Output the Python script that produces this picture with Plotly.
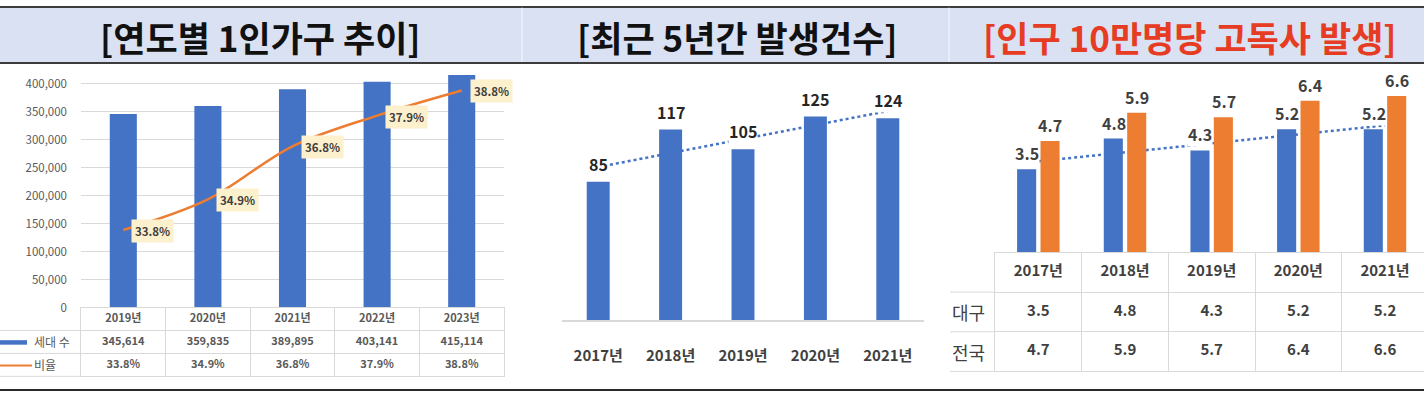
import numpy as np
import plotly.graph_objects as go

W, H = 1424, 402

# ---------------- data ----------------
titles = ["[연도별 1인가구 추이]", "[최근 5년간 발생건수]", "[인구 10만명당 고독사 발생]"]

years1 = ["2019년", "2020년", "2021년", "2022년", "2023년"]
households = [345614, 359835, 389895, 403141, 415114]
ratio = [33.8, 34.9, 36.8, 37.9, 38.8]
rows1 = ["연도", "세대 수", "비율"]
y1_ticks = [0, 50000, 100000, 150000, 200000, 250000, 300000, 350000, 400000]

years2 = ["2017년", "2018년", "2019년", "2020년", "2021년"]
cases = [85, 117, 105, 125, 124]

years3 = ["2017년", "2018년", "2019년", "2020년", "2021년"]
daegu = [3.5, 4.8, 4.3, 5.2, 5.2]
nation = [4.7, 5.9, 5.7, 6.4, 6.6]
rows3 = ["연도", "대구", "전국"]


# linear trendlines (as Excel draws them) fitted to the data
def trend(vals):
    xs = np.arange(len(vals))
    k, b = np.polyfit(xs, vals, 1)
    return (k * xs + b).tolist()


trend2 = trend(cases)
trend3 = trend(daegu)

# ---------------- style ----------------
FONT = "Noto Sans CJK KR"
BLUE = "#4472c4"
ORANGE = "#ed7d31"
GRID = "#d9d9d9"
TXT = "#404040"
GRAYTXT = "#595959"
NONE = "rgba(0,0,0,0)"


def fx(px):
    return px / W


def fy(py):
    return 1 - py / H


fig = go.Figure()

# ---------- panel 1 ----------
fig.add_trace(go.Bar(x=years1, y=households, xaxis="x", yaxis="y",
                     marker=dict(color=BLUE, line=dict(width=0)), width=0.32,
                     hoverinfo="skip"))
fig.add_trace(go.Scatter(x=years1, y=ratio, xaxis="x", yaxis="y2", mode="lines",
                         line=dict(color=ORANGE, width=2.5, shape="spline", smoothing=1),
                         hoverinfo="skip"))

# data table of panel 1 (category grid)
t1_x, t1_y, t1_t = [], [], []
for yr, h, r in zip(years1, households, ratio):
    t1_x += [yr, yr, yr]
    t1_y += rows1
    t1_t += [f"<b>{yr}</b>", f"<b>{h:,}</b>", f"<b>{r}%</b>"]
fig.add_trace(go.Scatter(x=t1_x, y=t1_y, text=t1_t, mode="text", xaxis="x4", yaxis="y7",
                         textfont=dict(family=FONT, size=11, color=GRAYTXT), hoverinfo="skip"))

# ---------- panel 2 ----------
fig.add_trace(go.Scatter(x=years2, y=trend2, xaxis="x2", yaxis="y3", mode="lines",
                         line=dict(color=BLUE, width=2.5, dash="dot"), hoverinfo="skip"))
fig.add_trace(go.Bar(x=years2, y=cases, xaxis="x2", yaxis="y4",
                     marker=dict(color=BLUE, line=dict(width=0)), width=0.317,
                     hoverinfo="skip"))

# ---------- panel 3 ----------
fig.add_trace(go.Scatter(x=years3, y=trend3, xaxis="x3", yaxis="y5", mode="lines",
                         line=dict(color=BLUE, width=2.5, dash="dot"), hoverinfo="skip"))
fig.add_trace(go.Bar(x=years3, y=daegu, xaxis="x3", yaxis="y6", name="대구",
                     marker=dict(color=BLUE, line=dict(width=0)),
                     width=0.22, offset=-0.245, hoverinfo="skip"))
fig.add_trace(go.Bar(x=years3, y=nation, xaxis="x3", yaxis="y6", name="전국",
                     marker=dict(color=ORANGE, line=dict(width=0)),
                     width=0.22, offset=0.025, hoverinfo="skip"))

t3_x, t3_y, t3_t = [], [], []
for yr, a, b in zip(years3, daegu, nation):
    t3_x += [yr, yr, yr]
    t3_y += rows3
    t3_t += [f"<b>{yr}</b>", f"<b>{a}</b>", f"<b>{b}</b>"]
fig.add_trace(go.Scatter(x=t3_x, y=t3_y, text=t3_t, mode="text", xaxis="x5", yaxis="y8",
                         textfont=dict(family=FONT, size=15, color=TXT), hoverinfo="skip"))

# ---------------- annotations ----------------
ann = []
title_x = [260, 737, 1190]
title_col = ["#111111", "#111111", "#e63c23"]
for t, x, c in zip(titles, title_x, title_col):
    ann.append(dict(text=f"<b>{t}</b>", x=fx(x), y=fy(37), xref="paper", yref="paper",
                    xanchor="center", yanchor="middle", showarrow=False,
                    font=dict(family=FONT, size=35, color=c)))

for yr, r in zip(years1, ratio):
    ann.append(dict(text=f"<b>{r}%</b>", x=yr, y=r, xref="x", yref="y2",
                    xanchor="left", yanchor="middle", xshift=8, yshift=-1,
                    showarrow=False, bgcolor="#fdf0cc", borderpad=3,
                    font=dict(family=FONT, size=11.5, color=TXT)))

# row labels of the panel-1 table
for lab in rows1[1:]:
    ann.append(dict(text=lab, x=fx(32), y=lab, xref="paper", yref="y7",
                    xanchor="left", yanchor="middle", showarrow=False,
                    font=dict(family=FONT, size=12, color=GRAYTXT)))

for yr, v in zip(years2, cases):
    ann.append(dict(text=f"<b>{v}</b>", x=yr, y=v, xref="x2", yref="y4",
                    xanchor="center", yanchor="bottom", yshift=5,
                    showarrow=False, bgcolor="white", borderpad=0,
                    font=dict(family=FONT, size=16, color="#262626")))

for yr, a, b in zip(years3, daegu, nation):
    ann.append(dict(text=f"<b>{a}</b>", x=yr, y=a, xref="x3", yref="y6",
                    xanchor="center", yanchor="bottom", yshift=3, xshift=-11.5,
                    showarrow=False, bgcolor="white", borderpad=0,
                    font=dict(family=FONT, size=16, color=TXT)))
    ann.append(dict(text=f"<b>{b}</b>", x=yr, y=b, xref="x3", yref="y6",
                    xanchor="center", yanchor="bottom", yshift=3, xshift=12,
                    showarrow=False, borderpad=0,
                    font=dict(family=FONT, size=16, color=TXT)))

for lab in rows3[1:]:
    ann.append(dict(text=lab, x=fx(969), y=lab, xref="paper", yref="y8",
                    xanchor="center", yanchor="middle", showarrow=False,
                    font=dict(family=FONT, size=18, color=TXT)))

# ---------------- shapes ----------------
shapes = [
    dict(type="rect", xref="paper", yref="paper", x0=0, x1=1, y0=fy(64), y1=fy(7),
         fillcolor="#dae1f3", line=dict(width=0), layer="below"),
    dict(type="line", xref="paper", yref="paper", x0=0, x1=1, y0=fy(7), y1=fy(7),
         line=dict(color="#3c3c3c", width=2)),
    dict(type="line", xref="paper", yref="paper", x0=0, x1=1, y0=fy(64), y1=fy(64),
         line=dict(color="#3c3c3c", width=2)),
    dict(type="line", xref="paper", yref="paper", x0=0, x1=1, y0=fy(397), y1=fy(397),
         line=dict(color="#2a2a2a", width=2)),
    dict(type="line", xref="paper", yref="paper", x0=fx(522), x1=fx(522), y0=fy(63), y1=fy(8),
         line=dict(color="#eef1fa", width=1.5)),
    dict(type="line", xref="paper", yref="paper", x0=fx(949), x1=fx(949), y0=fy(63), y1=fy(8),
         line=dict(color="#eef1fa", width=1.5)),
    # legend keys in the panel-1 data table
    dict(type="line", xref="paper", yref="paper", x0=0, x1=fx(27), y0=fy(348.5), y1=fy(348.5),
         line=dict(color=BLUE, width=4.5)),
    dict(type="line", xref="paper", yref="paper", x0=0, x1=fx(32), y0=fy(372), y1=fy(372),
         line=dict(color=ORANGE, width=2)),
]
for py in [336.3, 359.7, 383]:
    shapes.append(dict(type="line", xref="paper", yref="paper", x0=0, x1=fx(81), y0=fy(py), y1=fy(py),
                       line=dict(color=GRID, width=1)))
for py in [297.3, 337.7, 378]:
    shapes.append(dict(type="line", xref="paper", yref="paper", x0=fx(950), x1=fx(995), y0=fy(py), y1=fy(py),
                       line=dict(color=GRID, width=1)))

table_ax = dict(type="category", tickson="boundaries", showgrid=True, gridcolor=GRID, gridwidth=1,
                showticklabels=False, ticks="", zeroline=False, showline=True, linecolor=GRID,
                linewidth=1, fixedrange=True)

fig.update_layout(
    width=W, height=H, autosize=False,
    margin=dict(l=0, r=0, t=0, b=0, pad=0),
    paper_bgcolor="white", plot_bgcolor=NONE,
    showlegend=False, barmode="group", hovermode=False,
    font=dict(family=FONT, color=TXT),
    annotations=ann, shapes=shapes,
    # panel 1
    xaxis=dict(domain=[fx(81), fx(504)], anchor="y", type="category", range=[-0.5, 4.5],
               showticklabels=False, showgrid=False, zeroline=False, showline=False, fixedrange=True),
    yaxis=dict(domain=[fy(313), fy(73.6)], anchor="x", range=[0, 420000],
               tickvals=y1_ticks, tickformat=",", showgrid=True, gridcolor=GRID, gridwidth=1,
               zeroline=False, showline=False, ticks="", ticklabelstandoff=13,
               tickfont=dict(family=FONT, size=11.5, color=GRAYTXT), fixedrange=True),
    yaxis2=dict(overlaying="y", anchor="x", side="right", range=[31.02, 39.45], visible=False),
    xaxis4=dict(table_ax, domain=[fx(81), fx(504)], anchor="y7", range=[-0.5, 4.5],
                categoryorder="array", categoryarray=years1, mirror=True),
    yaxis7=dict(table_ax, domain=[fy(383), fy(313)], anchor="x4", range=[2.5, -0.5],
                categoryorder="array", categoryarray=rows1, mirror=True),
    # panel 2
    xaxis2=dict(domain=[fx(562), fx(924)], anchor="y3", type="category", range=[-0.5, 4.5],
                showgrid=False, zeroline=False, showline=True, linecolor=GRID, linewidth=1.5,
                ticks="", ticklabelstandoff=21,
                tickfont=dict(family=FONT, size=15, color=TXT, weight="bold"), fixedrange=True),
    yaxis3=dict(domain=[fy(325.7), fy(90)], anchor="x2", range=[0, 142.3], visible=False),
    yaxis4=dict(overlaying="y3", anchor="x2", range=[0, 142.3], visible=False),
    # panel 3
    xaxis3=dict(domain=[fx(995), 1.0], anchor="y5", type="category", range=[-0.5, 4.45],
                showticklabels=False, showgrid=False, zeroline=False, showline=False, fixedrange=True),
    yaxis5=dict(domain=[fy(256.5), fy(80)], anchor="x3", range=[0, 7.34], visible=False),
    yaxis6=dict(overlaying="y5", anchor="x3", range=[0, 7.34], visible=False),
    xaxis5=dict(table_ax, domain=[fx(995), 1.0], anchor="y8", range=[-0.5, 4.45],
                categoryorder="array", categoryarray=years3, mirror=True),
    yaxis8=dict(table_ax, domain=[fy(378), fy(257)], anchor="x5", range=[2.5, -0.5],
                categoryorder="array", categoryarray=rows3, mirror=False),
)

fig.write_html("out.html", config={"displayModeBar": False},
               post_script="document.body.style.margin='0px';")
